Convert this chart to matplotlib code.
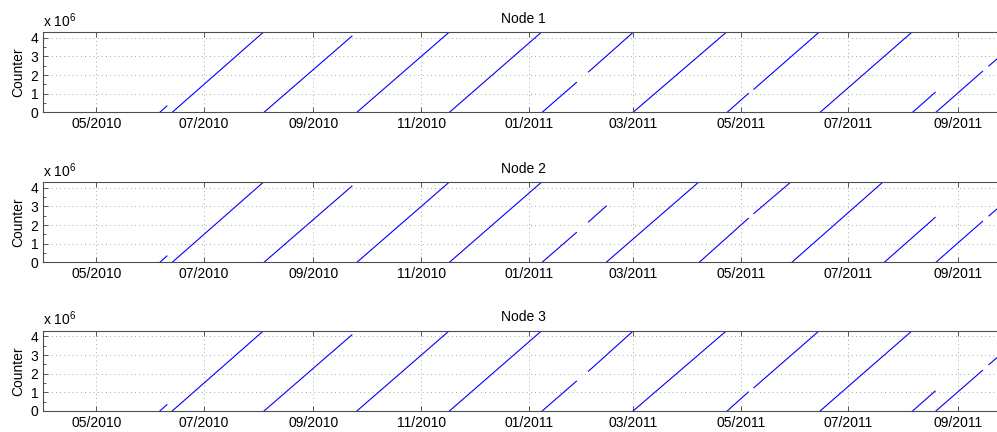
import numpy as np
import pandas as pd
import matplotlib
matplotlib.use('Agg')
import matplotlib.pyplot as plt
import matplotlib.dates as mdates
from matplotlib.ticker import FuncFormatter, MultipleLocator

plt.rcParams['font.family'] = 'Liberation Sans'
plt.rcParams['mathtext.fontset'] = 'custom'
plt.rcParams['mathtext.rm'] = 'Liberation Sans'

# counter ramps, one row per segment (values in millions)
node1_start = ['2010-06-06', '2010-06-13', '2010-08-04', '2010-09-25 14:00', '2010-11-17',
               '2011-01-08 12:00', '2011-02-03 19:00', '2011-03-01', '2011-04-23 07:00',
               '2011-05-08 10:00', '2011-06-14 22:00', '2011-08-06 07:00', '2011-08-19 12:00',
               '2011-09-18 12:00']
node1_end = ['2010-06-10', '2010-08-03 12:00', '2010-09-22 19:00', '2010-11-16 17:00', '2011-01-08',
             '2011-01-27 22:00', '2011-03-01', '2011-04-22 17:00', '2011-05-05 07:00',
             '2011-06-14 05:00', '2011-08-05 19:00', '2011-08-19 02:00', '2011-09-14 22:00',
             '2011-09-26']
node1_v0 = [0, 0, 0, 0, 0, 0, 2.17, 0, 0, 1.24, 0, 0, 0, 2.49]
node1_v1 = [0.34, 4.29, 4.09, 4.29, 4.29, 1.6, 4.29, 4.29, 1.01, 4.29, 4.29, 1.07, 2.2, 3.1]

node2_start = ['2010-06-06', '2010-06-13', '2010-08-04', '2010-09-25 14:00', '2010-11-17',
               '2011-01-08 12:00', '2011-02-03 19:00', '2011-02-13 19:00', '2011-04-07 12:00',
               '2011-05-08 10:00', '2011-05-29 22:00', '2011-07-21 07:00', '2011-08-19 12:00',
               '2011-09-18 12:00']
node2_end = ['2010-06-10', '2010-08-03 12:00', '2010-09-22 19:00', '2010-11-16 17:00', '2011-01-08',
             '2011-01-27 22:00', '2011-02-13 19:00', '2011-04-07', '2011-05-05 07:00',
             '2011-05-29 02:00', '2011-07-20 07:00', '2011-08-19 02:00', '2011-09-14 22:00',
             '2011-09-26']
node2_v0 = [0, 0, 0, 0, 0, 0, 2.17, 0, 0, 2.62, 0, 0, 0, 2.49]
node2_v1 = [0.34, 4.29, 4.09, 4.29, 4.29, 1.6, 3.02, 4.29, 2.36, 4.29, 4.29, 2.41, 2.2, 3.1]

node3_start = ['2010-06-06', '2010-06-13', '2010-08-04', '2010-09-25 14:00', '2010-11-17',
               '2011-01-08 12:00', '2011-02-03 19:00', '2011-03-01', '2011-04-23 07:00',
               '2011-05-08 10:00', '2011-06-14 22:00', '2011-08-06 07:00', '2011-08-19 12:00',
               '2011-09-18 12:00']
node3_end = ['2010-06-10', '2010-08-03 12:00', '2010-09-22 19:00', '2010-11-16 17:00', '2011-01-08',
             '2011-01-27 22:00', '2011-03-01', '2011-04-22 17:00', '2011-05-05 07:00',
             '2011-06-14 05:00', '2011-08-05 19:00', '2011-08-19 02:00', '2011-09-14 22:00',
             '2011-09-26']
node3_v0 = [0, 0, 0, 0, 0, 0, 2.14, 0, 0, 1.25, 0, 0, 0, 2.49]
node3_v1 = [0.34, 4.29, 4.09, 4.29, 4.29, 1.6, 4.29, 4.29, 1.02, 4.29, 4.29, 1.07, 2.18, 3.1]

titles = ['Node 1', 'Node 2', 'Node 3']
nodes = [(node1_start, node1_end, node1_v0, node1_v1),
         (node2_start, node2_end, node2_v0, node2_v1),
         (node3_start, node3_end, node3_v0, node3_v1)]

W, H = 997, 432
fig = plt.figure(figsize=(W / 100, H / 100), dpi=100)

# axes boxes in pixels: (left, top, right, bottom) - right edge runs off the picture
boxes = [(43.3, 32.3, 1003, 112.3), (43.3, 182.3, 1003, 262.3), (43.3, 331, 1003, 411)]

for (st, en, v0, v1), title, (l, t, r, b) in zip(nodes, titles, boxes):
    ax = fig.add_axes([l / W, 1 - b / H, (r - l) / W, (b - t) / H])
    st = pd.to_datetime(st, format='mixed')
    en = pd.to_datetime(en, format='mixed')
    for s, e, a, c in zip(st, en, v0, v1):
        ax.plot([s, e], [a * 1e6, c * 1e6], color='b', lw=0.8)

    ax.set_xlim(pd.Timestamp('2010-04-01'), pd.Timestamp('2011-09-26 12:00'))
    ax.set_ylim(0, 4.295e6)
    ax.xaxis.set_major_locator(mdates.MonthLocator(bymonth=[1, 3, 5, 7, 9, 11]))
    ax.xaxis.set_major_formatter(mdates.DateFormatter('%m/%Y'))
    ax.yaxis.set_major_locator(MultipleLocator(1e6))
    ax.yaxis.set_minor_locator(MultipleLocator(0.5e6))
    ax.yaxis.set_major_formatter(FuncFormatter(lambda v, p: '%d' % round(v / 1e6)))

    ax.grid(True, which='major', color='0.55', lw=0.6, linestyle=(0, (1, 4)))
    ax.tick_params(which='both', direction='in', top=True, right=True, labelsize=10,
                   color='0.25', width=0.6)
    ax.tick_params(which='major', length=3.5)
    ax.tick_params(which='minor', length=2.5)
    for sp in ax.spines.values():
        sp.set_color('0.3')
        sp.set_linewidth(0.8)

    ax.set_title(title, fontsize=10, pad=7)
    ax.set_ylabel('Counter', fontsize=10, labelpad=4)
    ax.annotate(r'x 10$^{6}$', xy=(0, 1), xycoords='axes fraction', xytext=(0, 4),
                textcoords='offset points', fontsize=10, va='baseline', ha='left')

plt.savefig('out.png', dpi=100)
